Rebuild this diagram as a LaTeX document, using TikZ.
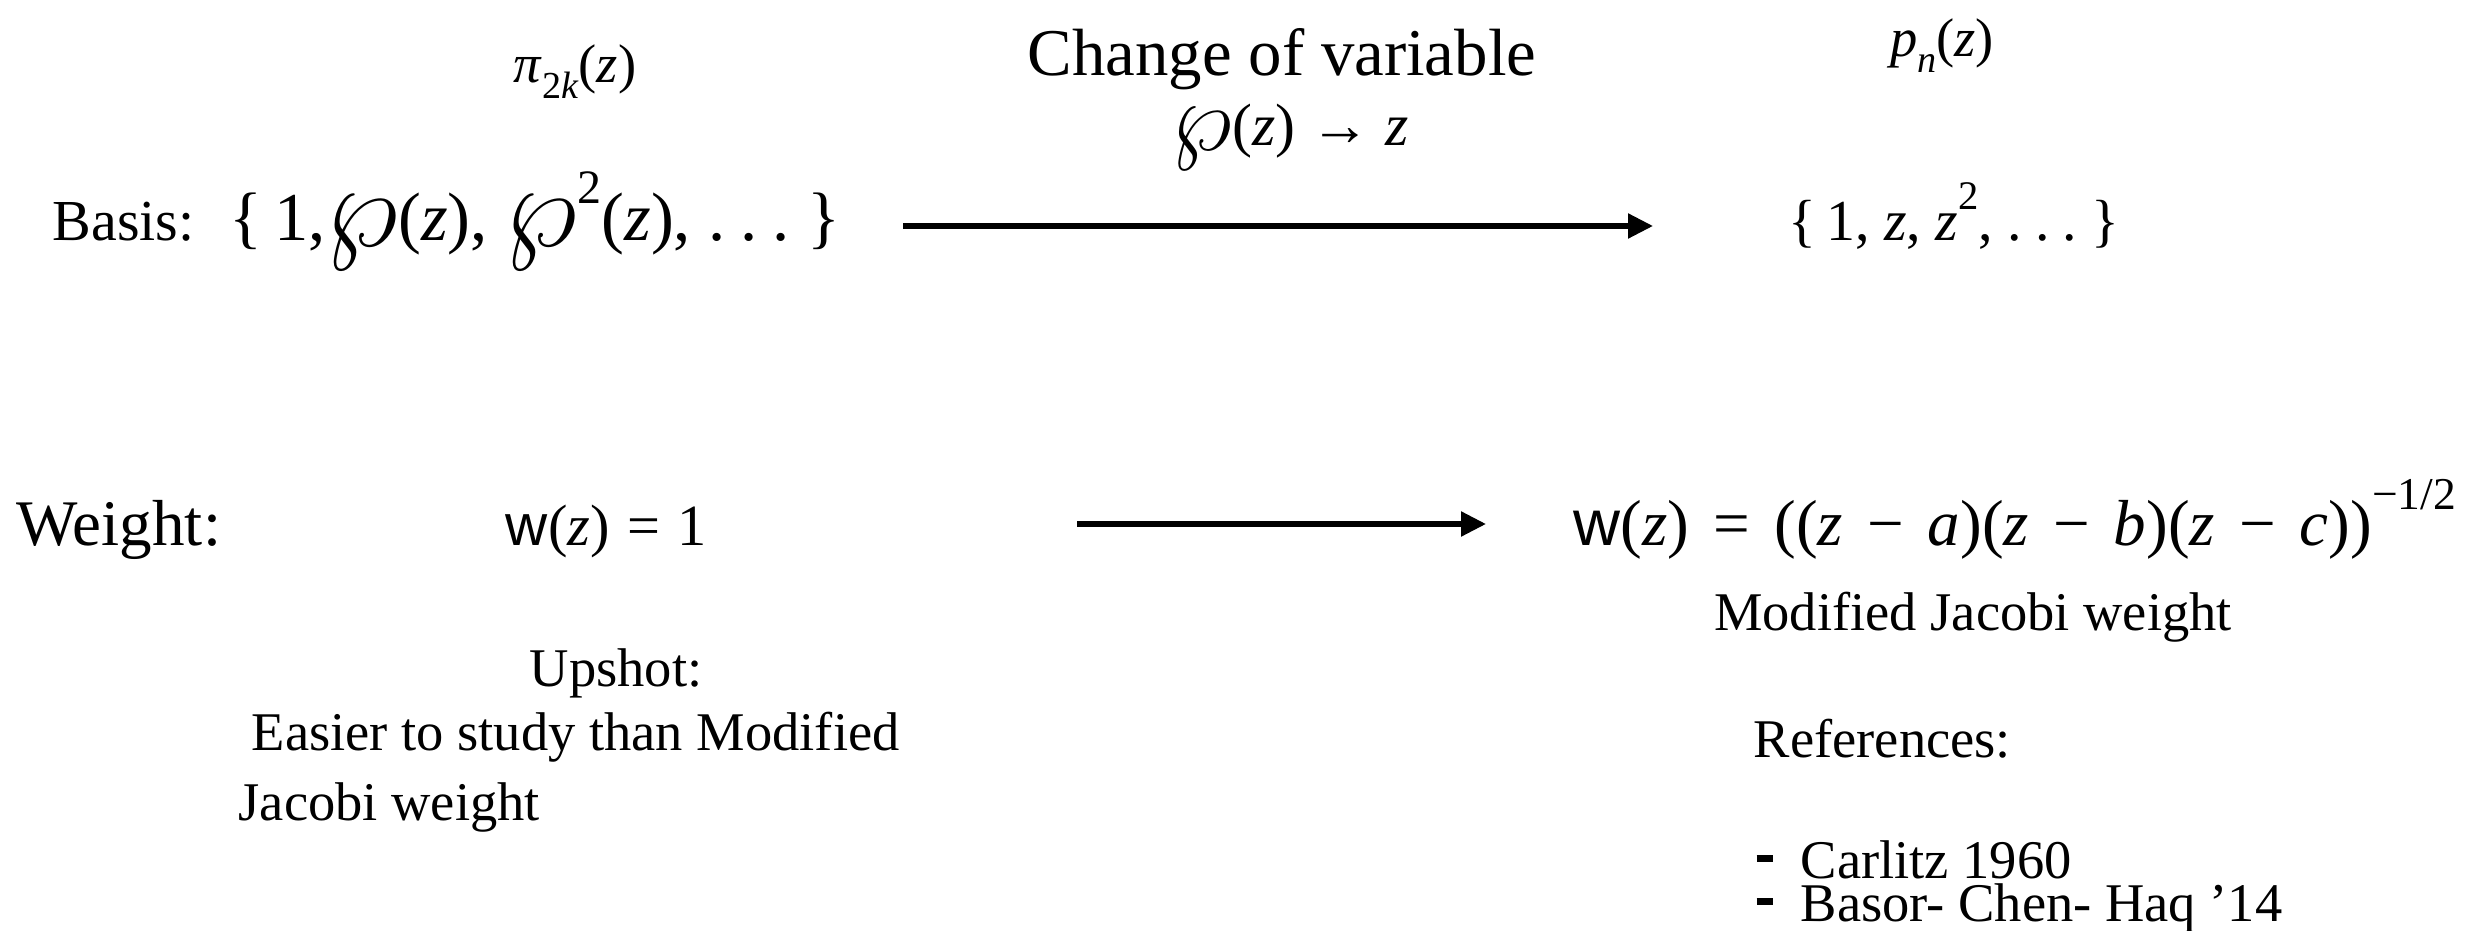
\documentclass[tikz,border=0pt]{standalone}
\usepackage{fontspec}
\setmainfont{Liberation Serif}
\setsansfont{Liberation Sans}
\usetikzlibrary{arrows.meta}
\newcommand{\mi}[1]{\textit{#1}}
\newcommand{\mysub}[1]{\raisebox{-0.28em}{\scalebox{0.7}{#1}}}
\newcommand{\mysupr}[1]{\raisebox{0.55em}{\scalebox{0.7}{#1}}}
\newcommand{\wpz}{\raisebox{-0.08em}{\scalebox{1.6}{$\wp$}}}
\newcommand{\dotsx}{.\hspace{0.22em}.\hspace{0.22em}.}
\newcommand{\opsp}{\hspace{0.3em}}
\newcommand{\opspw}{\hspace{0.37em}}
\newcommand{\bulletbar}{\raisebox{0.3em}{\rule{0.16cm}{0.065cm}}}
\begin{document}
\begin{tikzpicture}[x=0.01cm,y=-0.01cm,
  lab/.style={inner sep=0pt,anchor=base west,font=\fontsize{15.5}{18}\selectfont},
  ctr/.style={inner sep=0pt,anchor=base,font=\fontsize{15.5}{18}\selectfont},
  mth/.style={inner sep=0pt,anchor=base west,font=\fontsize{18.5}{21}\selectfont},
  big/.style={inner sep=0pt,anchor=base,font=\fontsize{17}{20}\selectfont},
  conn/.style={line width=1.5pt,-{Triangle[length=0.25cm,width=0.24cm]}}]
\useasboundingbox (0,0) rectangle (2492,931);
% top labels
\node[ctr] (pi) at (575,83) {\mi{π}\mysub{2\mi{k}}(\mi{z})};
\node[big,font=\fontsize{19}{22}\selectfont] (cov) at (1282,76) {Change of variable};
\node[big] (wpmap) at (1290,146) {\wpz(\mi{z}) → \mi{z}};
\node[ctr] (pn) at (1942,57) {\mi{p}\mysub{\mi{n}}(\mi{z})};
% basis row
\node[lab,font=\fontsize{16.5}{19}\selectfont] (basis) at (52,241) {Basis:};
\node[mth,font=\fontsize{19.5}{22}\selectfont] (bl) at (229,241) {\{\,1,\wpz(\mi{z}), \wpz\mysupr{2}(\mi{z}), \dotsx\ \}};
\node[mth,font=\fontsize{16.5}{19}\selectfont] (br) at (1788,241) {\{\,1, \mi{z}, \mi{z}\mysupr{2}, \dotsx\ \}};
\coordinate (a1s) at (903,226);
\coordinate (a1e) at (1653,226);
\draw[conn] (a1s) -- (a1e);
% weight row
\node[lab,font=\fontsize{18.5}{21}\selectfont] (weight) at (16,545) {Weight:};
\node[mth,font=\fontsize{16.6}{19}\selectfont] (wl) at (505,545) {\textsf{w}(\mi{z})\opsp=\opsp1};
\node[mth] (wr) at (1573,545) {\textsf{w}(\mi{z})\opspw=\opspw((\mi{z}\opspw−\opspw\mi{a})(\mi{z}\opspw−\opspw\mi{b})(\mi{z}\opspw−\opspw\mi{c}))\mysupr{−1/2}};
\coordinate (a2s) at (1077,524);
\coordinate (a2e) at (1486,524);
\draw[conn] (a2s) -- (a2e);
% notes
\node[ctr] (mjw) at (1973,630) {Modified Jacobi weight};
\node[ctr] (upshot) at (616,686) {Upshot:};
\node[lab] (easier) at (251,750) {Easier to study than Modified};
\node[lab] (jacobi) at (238,820) {Jacobi weight};
\node[lab] (refs) at (1753,757) {References:};
\node[lab] (d1) at (1756,878) {\bulletbar};
\node[lab] (carlitz) at (1800,878) {Carlitz 1960};
\node[lab] (d2) at (1756,921) {\bulletbar};
\node[lab] (basor) at (1800,921) {Basor- Chen- Haq ’14};
\end{tikzpicture}
\end{document}
